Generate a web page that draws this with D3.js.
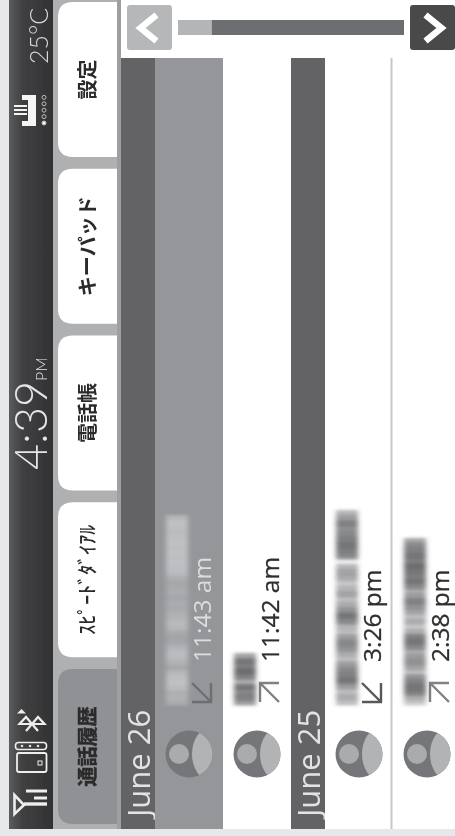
<!DOCTYPE html>
<html><head><meta charset="utf-8">
<script src="https://cdn.jsdelivr.net/npm/d3@7"></script>
<style>html,body{margin:0;padding:0;background:#e6e8ea;overflow:hidden}svg{display:block}</style>
</head><body><div id="c"></div>
<script>
// ---- content ----
const tabLabels = ["設定","キーパッド","電話帳","ｽﾋﾟｰﾄﾞﾀﾞｲｱﾙ","通話履歴"];
const activeTab = "通話履歴";
const clockText = "4:39", clockSuffix = "PM", tempText = "25°C";
const dateLabels = ["June 26","June 25"];
const callTimes = ["11:43 am","11:42 am","3:26 pm","2:38 pm"];
const callDirections = ["in","out","in","out"];
const callDates = ["June 26","June 26","June 25","June 25"];
const selectedCall = "11:43 am";
const nameShades = [
  [.4,.5,.45,.7,.8,.75,.6,.3,.5,.65,.7,.55,.3,.25,.35,.6,.65,.55,.45,.35,.4,.3,.4,.35,.3,.45,.7,.75,.8,.75,.8,.75,.8,.75,.7,.75,.8,.6],
  [.55,.7,.65,.75,.45,.7,.8,.7,.75,.5],
  [.35,.45,.35,.55,.75,.7,.65,.55,.35,.45,.6,.65,.55,.35,.4,.65,.75,.6,.45,.35,.5,.4,.3,.45,.5,.4,.1,.65,.7,.75,.7,.65,.6,.7,.55,.4],
  [.3,.45,.7,.75,.7,.6,.35,.5,.6,.55,.45,.65,.75,.7,.45,.3,.45,.35,.5,.6,.7,.55,.45,.65,.75,.7,.75,.8,.7,.75,.7,.65,.5]
];
const nameLengths = [190,52,195,167];
const scrollRange = [0,1], scrollThumbEnd = 0.15;
const weatherDots = [1,0,0,0,0];

// ---- layout ----
const W=455,H=836,screenB=829;
const svg=d3.select("#c").append("svg").attr("width",W).attr("height",H);
const defs=svg.append("defs");
const soft=defs.append("filter").attr("id","soft");soft.append("feGaussianBlur").attr("stdDeviation",.4);
const blur=defs.append("filter").attr("id","blur").attr("x","-40%").attr("y","-15%").attr("width","180%").attr("height","130%");
blur.append("feGaussianBlur").attr("stdDeviation","2.4 1.5");
const hg=defs.append("linearGradient").attr("id","hg");
[[0,"#5c5d5f"],[.3,"#404042"],[1,"#323233"]].forEach(s=>hg.append("stop").attr("offset",s[0]).attr("stop-color",s[1]));
defs.append("clipPath").attr("id","scr").append("rect").attr("x",9).attr("y",0).attr("width",W-9).attr("height",screenB);

const root=svg.append("g").attr("filter","url(#soft)").attr("clip-path","url(#scr)");
root.append("rect").attr("x",9).attr("width",W).attr("height",screenB).attr("fill","#fff");
root.append("rect").attr("x",9).attr("width",44).attr("height",screenB).attr("fill","url(#hg)");
root.append("rect").attr("x",53).attr("width",66).attr("height",screenB).attr("fill","#aeb0b2");
root.append("rect").attr("x",117).attr("width",4).attr("height",screenB).attr("fill","#9d9fa1");

const rot=(x,y)=>`translate(${x},${y}) rotate(-90)`;

// tabs
const tabY=d3.scaleBand().domain(tabLabels).range([2,824]).paddingInner(.07);
const tabs=root.selectAll("g.tab").data(tabLabels).join("g").attr("class","tab");
tabs.append("path").attr("d",d=>{const y=tabY(d),h=tabY.bandwidth(),x0=58,x1=117,r=15;
  return `M${x1},${y}H${x0+r}Q${x0},${y} ${x0},${y+r}V${y+h-r}Q${x0},${y+h} ${x0+r},${y+h}H${x1}Z`;})
  .attr("fill",d=>d===activeTab?"#8f9194":"#fff");
tabs.append("text").attr("transform",d=>rot(95,tabY(d)+tabY.bandwidth()/2))
  .attr("text-anchor","middle").attr("font-family","'Noto Sans CJK JP'")
  .attr("font-weight",d=>/[ｰ-ﾟ]/.test(d)?500:700)
  .attr("font-size",20).attr("fill","#2b2b2c")
  .attr("stroke",d=>d===activeTab?"#2b2b2c":"none").attr("stroke-width",.5).text(d=>d);

// status bar
const lato="Lato,'Open Sans',sans-serif";
const clock=root.append("text").attr("transform",rot(47,470)).attr("font-family",lato).attr("font-weight",300).attr("font-size",45).attr("fill","#e4e5e6");
clock.append("tspan").text(clockText);
clock.append("tspan").attr("font-size",16).text(clockSuffix);
root.append("text").attr("transform",rot(48,64)).attr("font-family",lato).attr("font-weight",300).attr("font-size",25).attr("fill","#d8d9da").text(tempText);

// status icons
const ic=root.append("g").attr("stroke","#eeeeee").attr("fill","none");
// signal
ic.append("path").attr("d","M14.5,795 V814 L24,805 Z").attr("stroke-width",2.6);
ic.append("path").attr("d","M24,804 H47").attr("stroke-width",3.4);
ic.append("path").attr("d","M26,791 H47 M34,798 H47").attr("stroke-width",2.8);
// device
ic.append("rect").attr("x",15.5).attr("y",742.5).attr("width",31).attr("height",7).attr("rx",3).attr("stroke-width",1.6);
ic.selectAll("circle.d").data(d3.range(3)).join("circle").attr("class","d").attr("cx",d=>22+d*8).attr("cy",746).attr("r",1.3).attr("fill","#ddd").attr("stroke","none");
ic.append("rect").attr("x",17).attr("y",753).attr("width",29.5).attr("height",19).attr("rx",2).attr("stroke-width",1.8);
ic.append("rect").attr("x",38).attr("y",761).attr("width",4).attr("height",4).attr("stroke-width",1);
// bluetooth
ic.append("path").attr("d","M26,731 L38,717 L44.5,724 H19.5 L26,717 L38,731").attr("stroke-width",2.2);
ic.append("path").attr("d","M17,713.5 H26 L21.5,709 Z").attr("fill","#eee").attr("stroke","none");
// weather / building
const ib=root.append("g").attr("fill","#f4f4f4");
ib.append("rect").attr("x",28).attr("y",95).attr("width",8).attr("height",31);
ib.append("rect").attr("x",22).attr("y",95).attr("width",8).attr("height",5);
ib.append("rect").attr("x",22).attr("y",121).attr("width",8).attr("height",5);
ib.selectAll("rect.h").data([105,109,113]).join("rect").attr("class","h").attr("x",14).attr("y",d=>d).attr("width",13).attr("height",2);
ib.selectAll("circle.dot").data(weatherDots).join("circle").attr("class","dot").attr("cx",44).attr("cy",(d,i)=>123-i*6.4).attr("r",2)
  .attr("fill",d=>d?"#f4f4f4":"none").attr("stroke","#bdbdbd").attr("stroke-width",1);

// scroll control
const scrollX=d3.scaleLinear().domain(scrollRange).range([178,404]);
root.append("rect").attr("x",scrollX(0)).attr("y",20).attr("width",scrollX(1)-scrollX(0)).attr("height",15).attr("fill","#6d6e71");
root.append("rect").attr("x",scrollX(0)).attr("y",20).attr("width",scrollX(scrollThumbEnd)-scrollX(0)).attr("height",15).attr("fill","#b3b5b7");
[[127,"#b5b7b9",-1],[410,"#48484a",1]].forEach(([x,fill,dir])=>{
  root.append("rect").attr("x",x).attr("y",5).attr("width",45).attr("height",45).attr("rx",3).attr("fill",fill);
  const c=x+22.5;
  root.append("path").attr("d",`M${c-dir*7},${15} L${c+dir*9},${28} L${c-dir*7},${41}`).attr("fill","none").attr("stroke","#fff").attr("stroke-width",6.5);
});

// list
const listUnits=[];
let u=0;
dateLabels.forEach(dl=>{listUnits.push({type:"date",label:dl,u0:u,u1:u+1});u+=1;
  callTimes.forEach((t,i)=>{if(callDates[i]===dl){listUnits.push({type:"call",time:t,dir:callDirections[i],idx:i,u0:u,u1:u+2});u+=2;}});
});
const listX=d3.scaleLinear().domain([0,1]).range([121,155]);
const listTop=58;
const rows=root.selectAll("g.row").data(listUnits).join("g").attr("class","row");
rows.append("rect").attr("x",d=>listX(d.u0)).attr("y",listTop).attr("width",d=>listX(d.u1)-listX(d.u0)).attr("height",screenB-listTop)
  .attr("fill",d=>d.type==="date"?"#636466":d.time===selectedCall?"#949699":"#fff");
// separators
root.selectAll("rect.sep").data(listUnits.filter(d=>d.type==="call"&&d.time===callTimes[2])).join("rect").attr("class","sep")
  .attr("x",d=>listX(d.u1)-2.5).attr("y",listTop).attr("width",2).attr("height",screenB-listTop).attr("fill","#c6c8ca");

const oSans="'Open Sans',sans-serif";
rows.filter(d=>d.type==="date").append("text").attr("transform",d=>rot(listX(d.u1)-5,817))
  .attr("font-family",oSans).attr("font-size",31).attr("fill","#e2e3e4").text(d=>d.label);

const calls=rows.filter(d=>d.type==="call");
const isSel=d=>d.time===selectedCall;
calls.append("text").attr("transform",d=>rot(listX(d.u0)+56,662))
  .attr("font-family",oSans).attr("font-size",24.5).attr("fill",d=>isSel(d)?"#dcdddf":"#2e2e30")
  .attr("stroke",d=>isSel(d)?"none":"#2e2e30").attr("stroke-width",.3).text(d=>d.time);

// direction arrows
calls.append("path").attr("d",d=>{const x=listX(d.u0)+37,y=683,s=19;
  return d.dir==="in"?`M${x},${y} L${x+s},${y+s} M${x},${y+s} H${x+s} V${y}`:`M${x+s},${y+s} L${x},${y} M${x+s},${y} H${x} V${y+s}`;})
  .attr("fill","none").attr("stroke",d=>isSel(d)?"#6d6e71":d.dir==="in"?"#58595b":"#808183").attr("stroke-width",2.4);

// blurred names
const nm=calls.append("g").attr("filter","url(#blur)");
nm.each(function(d){
  const sh=nameShades[d.idx],len=nameLengths[d.idx],g=d3.select(this);
  const y=d3.scaleBand().domain(d3.range(sh.length)).range([705,705-len]);
  const xl=listX(d.u0)+11;
  g.selectAll("rect").data(sh).join("rect").attr("x",xl).attr("y",(s,i)=>y(i)).attr("width",22).attr("height",y.bandwidth()+.5)
    .attr("fill",isSel(d)?"#c9cbcd":"#4a4b4e").attr("opacity",s=>s);
});

// avatars
const cy=754;
calls.each(function(d){
  const g=d3.select(this),cx=(listX(d.u0)+listX(d.u1))/2;
  const id="av"+d.idx;
  defs.append("clipPath").attr("id",id).append("circle").attr("cx",cx).attr("cy",cy).attr("r",23.5);
  g.append("circle").attr("cx",cx).attr("cy",cy).attr("r",23.5).attr("fill","#757679");
  g.append("circle").attr("cx",cx-10).attr("cy",cy).attr("r",10).attr("fill","#a9abad");
  g.append("ellipse").attr("clip-path",`url(#${id})`).attr("cx",cx+21).attr("cy",cy).attr("rx",18).attr("ry",26).attr("fill","#b1b3b5");
});
</script></body></html>
